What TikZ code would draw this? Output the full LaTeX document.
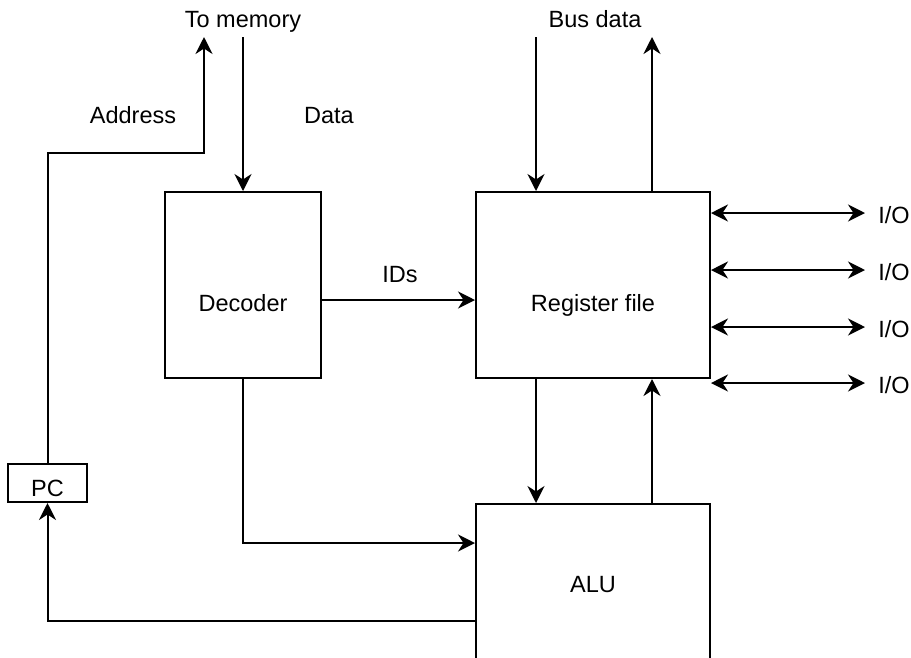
\documentclass[tikz,border=0pt]{standalone}
\usepackage{fontspec}
\setmainfont{Liberation Sans}
\usetikzlibrary{arrows.meta}
\begin{document}
\begin{tikzpicture}[x=1pt,y=-1pt,
  box/.style={draw,line width=2pt,inner sep=0pt,font=\fontsize{23.5}{28}\selectfont},
  lbl/.style={inner sep=0pt,anchor=base,font=\fontsize{23.5}{28}\selectfont},
  tip/.tip={Stealth[length=17pt,width=17pt,inset=5.5pt]},
  arr/.style={line width=2pt,-tip},
  arrboth/.style={line width=2pt,tip-tip}]
\clip (0,0) rectangle (911,657);
\fill[white] (0,0) rectangle (911,657);
% blocks
\node[box,minimum width=156pt,minimum height=186pt,text height=52pt,text depth=0pt] (dec) at (243,285) {Decoder};
\node[box,minimum width=234pt,minimum height=186pt,text height=52pt,text depth=0pt] (reg) at (593,285) {Register file};
\node[box,minimum width=234pt,minimum height=162pt] (alu) at (593,585) {ALU};
\node[box,minimum width=79pt,minimum height=38pt,text height=26pt,text depth=0pt] (pc) at (47.5,483) {PC};
% labels
\node[lbl] (tomem) at (243,27) {To memory};
\node[lbl] (busdata) at (595,27) {Bus data};
\node[lbl] (addr) at (133,123) {Address};
\node[lbl] (data) at (329,123) {Data};
\node[lbl] (ids) at (400,282) {IDs};
\node[lbl] (io1) at (894,223) {I/O};
\node[lbl] (io2) at (894,280) {I/O};
\node[lbl] (io3) at (894,337) {I/O};
\node[lbl] (io4) at (894,393) {I/O};
% free ends
\coordinate (memup) at (204,37);
\coordinate (memdown) at (243,37);
\coordinate (addrbend) at (204,153);
\coordinate (busin) at (536,37);
\coordinate (busout) at (652,37);
\coordinate (ioe1) at (865,213);
\coordinate (ioe2) at (865,270);
\coordinate (ioe3) at (865,327);
\coordinate (ioe4) at (865,383);
% connectors
\draw[arr] (pc.north) |- (addrbend) -- (memup);
\draw[arr] (memdown) -- (dec.north);
\draw[arr] (busin) -- (busin |- reg.north);
\draw[arr] (busout |- reg.north) -- (busout);
\draw[arr] (dec.east |- 0,300) -- (reg.west |- 0,300);
\draw[arr] (reg.south -| busin) -- (alu.north -| busin);
\draw[arr] (alu.north -| busout) -- (reg.south -| busout);
\draw[arr] (dec.south) |- (alu.west |- 0,543);
\draw[arr] (alu.west |- 0,621) -| (pc.south);
\draw[arrboth] (reg.east |- ioe1) -- (ioe1);
\draw[arrboth] (reg.east |- ioe2) -- (ioe2);
\draw[arrboth] (reg.east |- ioe3) -- (ioe3);
\draw[arrboth] (reg.east |- ioe4) -- (ioe4);
\end{tikzpicture}
\end{document}
